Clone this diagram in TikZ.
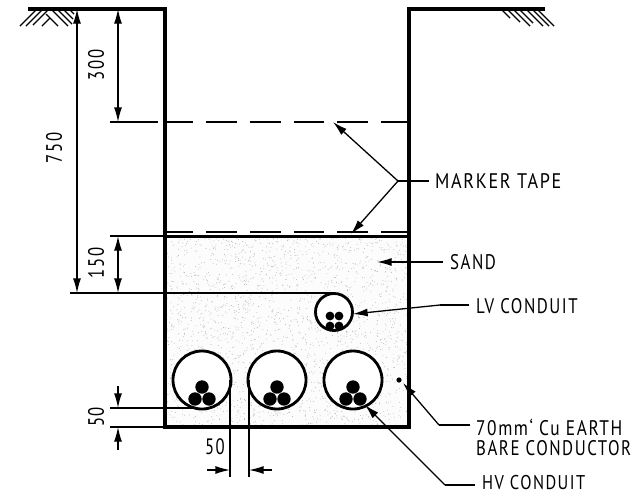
\documentclass[tikz,border=0pt]{standalone}
\usepackage{fontspec}
\setmainfont[LetterSpace=9]{PT Sans}
\usetikzlibrary{arrows.meta}
\tikzset{
  wall/.style={line width=2.6pt},
  dimline/.style={line width=1.1pt},
  leader/.style={line width=1.1pt,-{Latex[length=12.5pt,width=6.8pt]}},
  twoway/.style={line width=1.1pt,{Latex[length=12.5pt,width=6.8pt]}-{Latex[length=12.5pt,width=6.8pt]}},
  tape/.style={line width=1.1pt,dash pattern=on 26.35pt off 11.05pt,dash phase=4.2pt},
  conduit/.style={line width=2.4pt,fill=white},
  core/.style={fill=black},
  label/.style={anchor=west,inner sep=0pt,xscale=0.8,font=\fontsize{18}{18}\selectfont},
  dimtext/.style={inner sep=0pt,xscale=0.75,font=\fontsize{19}{19}\selectfont},
  hatch/.style={line width=1.2pt}
}
\newcommand{\hvconduit}[2]{
  \draw[conduit] (#1,#2) circle (29);
  \fill[core] (#1,#2+7) circle (6.7);
  \fill[core] (#1-7,#2+19) circle (6.7);
  \fill[core] (#1+7,#2+19) circle (6.7);
}
\begin{document}
\begin{tikzpicture}[x=0.03cm,y=-0.03cm]
\useasboundingbox (0,0) rectangle (634,495);

% sand
\pgfmathsetseed{7}
\fill[gray!2] (165,236) rectangle (409,427);
\foreach \i in {1,...,2300}
  \fill[gray!60] ({165+244*rnd},{236+191*rnd}) circle (0.45);

% ground
\foreach \xa/\xb/\ya/\yb in {36/20/10/26,42/26/10/26,48/33/10/25,50/42/18/26,46/58/14/26,52/68/10/26,58/72/10/24,64/73/10/19,70/74/10/14}
  \draw[hatch] (\xa,\ya) -- (\xb,\yb);
\foreach \xa/\xb/\ya/\yb in {502/510/10/18,508/520/10/22,514/530/10/26,520/533/10/23,527/543/10/26,533/549/10/26,538/554/10/26}
  \draw[hatch] (\xa,\ya) -- (\xb,\yb);

% levels
\coordinate (tapeAl) at (110,122);
\coordinate (tapeAm) at (158,122);
\coordinate (tapeAs) at (167,122);
\coordinate (tapeAr) at (409,122);
\coordinate (tapeBl) at (167,232);
\coordinate (tapeBr) at (409,232);
\coordinate (sandl) at (110,236);
\coordinate (sandm) at (165,236);
\coordinate (sandr) at (409,236.5);
\coordinate (lvl) at (70,293);
\coordinate (lvr) at (334,293);
\coordinate (hvl) at (110,408);
\coordinate (hvr) at (194,408);
\coordinate (botl) at (110,427);
\coordinate (botr) at (165,427);
\draw[dimline] (tapeAl) -- (tapeAm);
\draw[tape] (tapeAs) -- (tapeAr);
\draw[tape,line width=1.6pt] (tapeBl) -- (tapeBr);
\draw[dimline] (sandl) -- (sandm);
\draw[line width=2.2pt] (sandm |- sandr) -- (sandr);
\draw[dimline] (lvl) -- (lvr);
\draw[dimline] (hvl) -- (hvr);
\draw[dimline] (botl) -- (botr);

% conduits
\hvconduit{202}{380}
\hvconduit{277}{380}
\hvconduit{353}{380}
\draw[conduit] (334,312) circle (18.5);
\foreach \cx/\cy in {330/316,339/316,330/326,339/326}
  \fill[core] (\cx,\cy) circle (4.4);
\fill[core] (399,380) circle (2.6);

% trench
\coordinate (gl) at (28,9);
\coordinate (gr) at (545,9);
\draw[wall] (gl) -- (165,9) -- (165,427) -- (409,427) -- (409,9) -- (gr);

% dimensions
\coordinate (d750a) at (77,9);
\coordinate (d750b) at (77,293);
\coordinate (d300a) at (118,9);
\coordinate (d300b) at (118,122);
\coordinate (d150a) at (118,236);
\coordinate (d150b) at (118,293);
\draw[twoway] (d750a) -- (d750b);
\draw[twoway] (d300a) -- (d300b);
\draw[twoway] (d150a) -- (d150b);
\coordinate (d50a) at (118,386);
\coordinate (d50b) at (118,408);
\coordinate (d50c) at (118,450);
\coordinate (d50d) at (118,427);
\draw[leader] (d50a) -- (d50b);
\draw[leader] (d50c) -- (d50d);
\coordinate (gapl) at (230,380);
\coordinate (gapla) at (230,477);
\coordinate (gapr) at (249,380);
\coordinate (gapra) at (249,477);
\draw[dimline] (gapl) -- (gapla);
\draw[dimline] (gapr) -- (gapra);
\coordinate (d50e) at (207,470);
\coordinate (d50f) at (230,470);
\coordinate (d50g) at (272,470);
\coordinate (d50h) at (249,470);
\draw[leader] (d50e) -- (d50f);
\draw[leader] (d50g) -- (d50h);

\node[rotate=90,dimtext] (t750) at (54,148) {750};
\node[rotate=90,dimtext] (t300) at (96,65) {300};
\node[rotate=90,dimtext] (t150) at (96,263) {150};
\node[rotate=90,dimtext] (t50a) at (96,417) {50};
\node[dimtext] (t50b) at (215,447) {50};

% labels
\node[label,xscale=1.075] (marker) at (435,181) {MARKER TAPE};
\node[label] (sand) at (450,262) {SAND};
\node[label] (lv) at (476,306) {LV CONDUIT};
\node[label,xscale=1.03] (earth) at (476,427) {70mm` Cu EARTH};
\node[label] (bare) at (476,448) {BARE CONDUCTOR};
\node[label,xscale=1.03,font=\fontsize{17}{17}\selectfont] (hv) at (482,483) {HV CONDUIT};

\coordinate (mj) at (398,181);
\coordinate (ms) at (429,181);
\coordinate (ma) at (333,122);
\coordinate (mb) at (351,234);
\draw[dimline] (ms) -- (mj);
\draw[leader] (mj) -- (ma);
\draw[leader] (mj) -- (mb);
\coordinate (ss) at (443,262);
\coordinate (sa) at (377,262);
\draw[leader] (ss) -- (sa);
\coordinate (ls) at (469,305);
\coordinate (lj) at (440,305);
\coordinate (lt) at (353,314);
\draw[dimline] (ls) -- (lj);
\draw[leader] (lj) -- (lt);
\coordinate (es) at (470,425);
\coordinate (ej) at (439,425);
\coordinate (et) at (403,383);
\draw[dimline] (es) -- (ej);
\draw[leader] (ej) -- (et);
\coordinate (hs) at (475,485);
\coordinate (hj) at (445,485);
\coordinate (ht) at (365,405);
\draw[dimline] (hs) -- (hj);
\draw[leader] (hj) -- (ht);
\end{tikzpicture}
\end{document}
